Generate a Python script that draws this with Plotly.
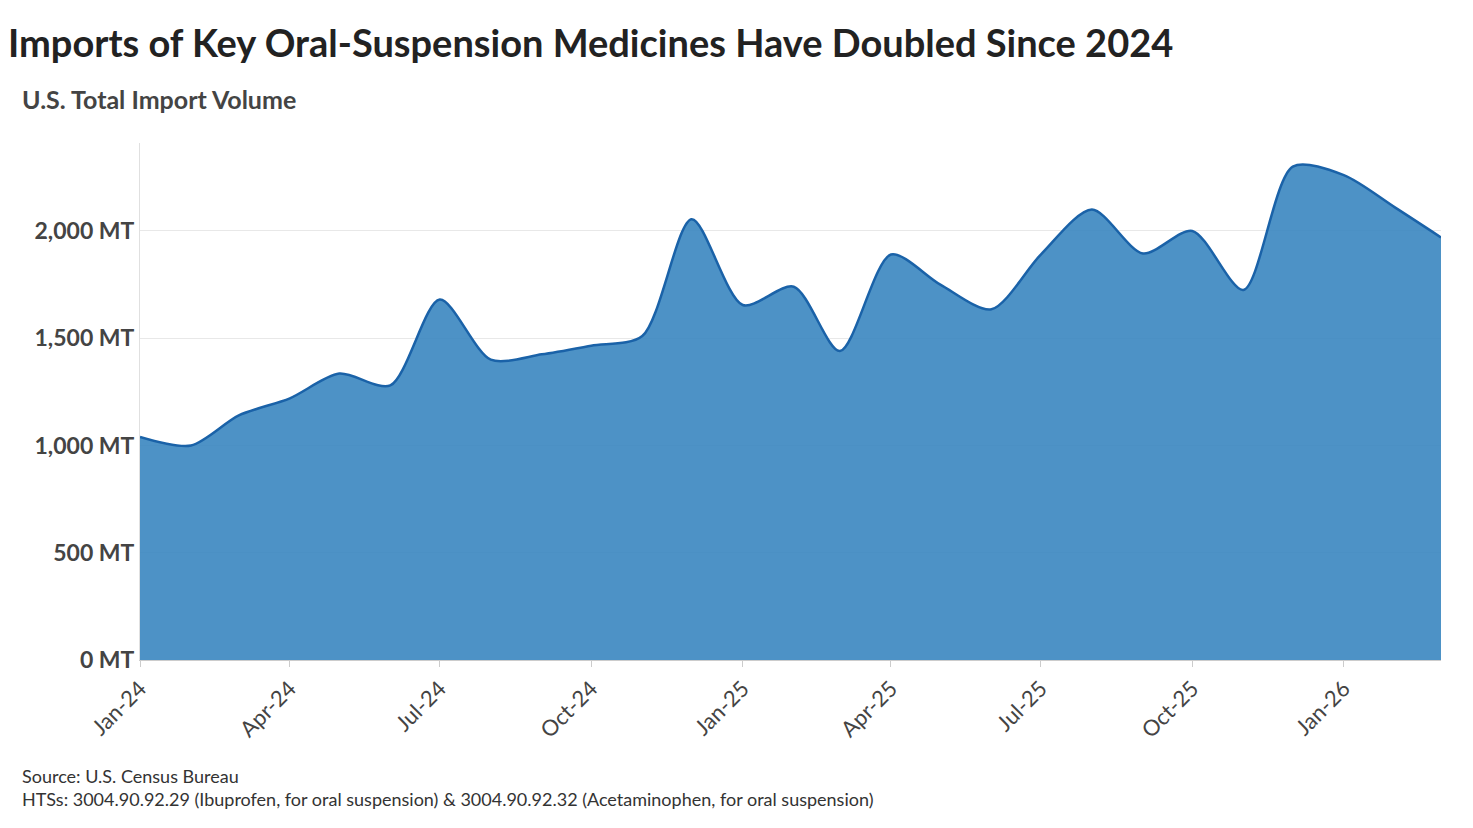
import pandas as pd
import plotly.graph_objects as go

months = pd.date_range("2024-01-01", "2026-03-01", freq="MS")
volume_mt = [1040, 1000, 1140, 1220, 1335, 1280, 1680, 1400, 1425, 1465, 1510, 2055,
             1655, 1740, 1440, 1890, 1750, 1635, 1890, 2100, 1895, 2000, 1725, 2300,
             2260, 2110, 1970]
tick_dates = pd.date_range("2024-01-01", "2026-01-01", freq="3MS")
tick_labels = [d.strftime("%b-%y") for d in tick_dates]
y_ticks = [0, 500, 1000, 1500, 2000]

fig = go.Figure()
fig.add_trace(go.Scatter(
    x=months, y=volume_mt, mode="lines",
    line=dict(color="#1a62a8", width=2.5, shape="spline", smoothing=0.8),
    fill="tozeroy", fillcolor="rgba(58,134,192,0.9)",
    hoverinfo="x+y",
))

font = "Lato, 'Open Sans', sans-serif"
fig.update_layout(
    width=1473, height=828,
    paper_bgcolor="white", plot_bgcolor="white",
    margin=dict(l=132, r=40, t=135, b=176),
    showlegend=False,
    font=dict(family=font, color="#333333"),
    title=dict(text="<b>Imports of Key Oral-Suspension Medicines Have Doubled Since 2024</b>",
               x=0.0, xanchor="left", y=0.957, yanchor="middle",
               font=dict(size=38, color="#222222", family=font)),
    annotations=[
        dict(text="<b>U.S. Total Import Volume</b>", xref="paper", yref="paper",
             x=-0.092, y=1.085, xanchor="left", yanchor="middle", showarrow=False,
             font=dict(size=25, color="#444444")),
        dict(text="Source: U.S. Census Bureau<br>HTSs: 3004.90.92.29 (Ibuprofen, for oral suspension) & 3004.90.92.32 (Acetaminophen, for oral suspension)",
             xref="paper", yref="paper", x=-0.092, y=-0.2, xanchor="left", yanchor="top",
             align="left", showarrow=False, font=dict(size=18, color="#333333")),
    ],
)
fig.update_xaxes(
    range=[months[0], months[-1]], tickvals=tick_dates, ticktext=tick_labels,
    tickangle=-45, tickfont=dict(size=22, color="#444444"),
    showgrid=False, showline=True, linecolor="#cccccc", ticks="outside",
    ticklen=6, tickcolor="#cccccc",
)
fig.update_yaxes(
    range=[0, 2410], tickvals=y_ticks, ticktext=[f"<b>{v:,} MT</b>" for v in y_ticks],
    tickfont=dict(size=23, color="#444444"), showgrid=True, gridcolor="#e8e8e8",
    showline=True, linecolor="#e0e0e0", zeroline=False, ticklen=4, ticks="",
)
fig.write_html("out.html")
